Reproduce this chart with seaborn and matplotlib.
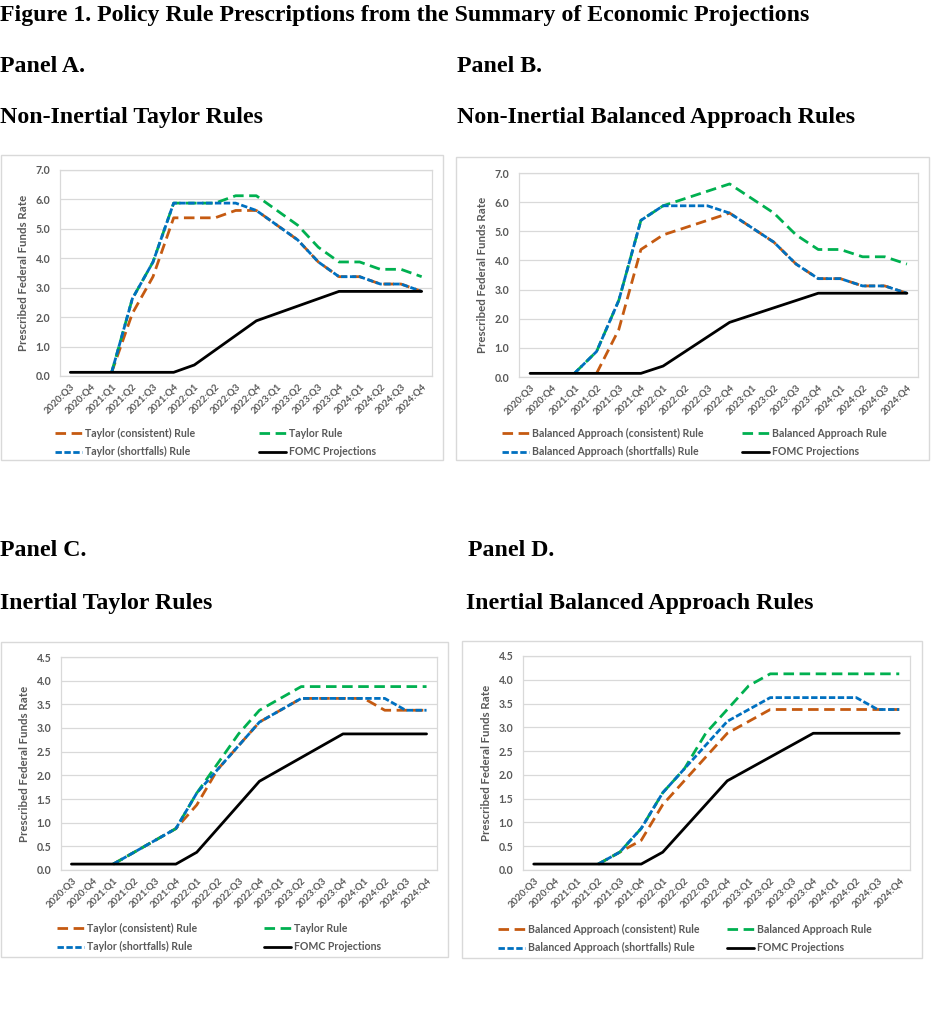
import numpy as np
import pandas as pd
import matplotlib.pyplot as plt
import seaborn as sns
from matplotlib.patches import Rectangle

nan = np.nan

# 季度标签
quarters = ['2020:Q3', '2020:Q4', '2021:Q1', '2021:Q2', '2021:Q3', '2021:Q4',
            '2022:Q1', '2022:Q2', '2022:Q3', '2022:Q4', '2023:Q1', '2023:Q2',
            '2023:Q3', '2023:Q4', '2024:Q1', '2024:Q2', '2024:Q3', '2024:Q4']

fomc = [0.125, 0.125, 0.125, 0.125, 0.125, 0.125, 0.375, 0.875, 1.375, 1.875,
        2.125, 2.375, 2.625, 2.875, 2.875, 2.875, 2.875, 2.875]

# Panel A
a_consistent = [nan, nan, 0.125, 2.125, 3.375, 5.375, 5.375, 5.375, 5.625, 5.625,
                5.125, 4.625, 3.875, 3.375, 3.375, 3.125, 3.125, 2.875]
a_taylor = [nan, nan, 0.125, 2.625, 3.875, 5.875, 5.875, 5.875, 6.125, 6.125,
            5.625, 5.125, 4.375, 3.875, 3.875, 3.625, 3.625, 3.375]
a_shortfalls = [nan, nan, 0.125, 2.625, 3.875, 5.875, 5.875, 5.875, 5.875, 5.625,
                5.125, 4.625, 3.875, 3.375, 3.375, 3.125, 3.125, 2.875]

# Panel B
b_consistent = [nan, nan, nan, 0.125, 1.625, 4.375, 4.875, 5.125, 5.375, 5.625,
                5.125, 4.625, 3.875, 3.375, 3.375, 3.125, 3.125, 2.875]
b_balanced = [nan, nan, 0.125, 0.875, 2.625, 5.375, 5.875, 6.125, 6.375, 6.625,
              6.125, 5.625, 4.875, 4.375, 4.375, 4.125, 4.125, 3.875]
b_shortfalls = [nan, nan, 0.125, 0.875, 2.625, 5.375, 5.875, 5.875, 5.875, 5.625,
                5.125, 4.625, 3.875, 3.375, 3.375, 3.125, 3.125, 2.875]

# Panel C
c_consistent = [nan, nan, 0.125, 0.375, 0.625, 0.875, 1.375, 2.125, 2.625, 3.125,
                3.375, 3.625, 3.625, 3.625, 3.625, 3.375, 3.375, 3.375]
c_taylor = [nan, nan, 0.125, 0.375, 0.625, 0.875, 1.625, 2.25, 2.875, 3.375,
            3.625, 3.875, 3.875, 3.875, 3.875, 3.875, 3.875, 3.875]
c_shortfalls = [nan, nan, 0.125, 0.375, 0.625, 0.875, 1.625, 2.125, 2.625, 3.125,
                3.375, 3.625, 3.625, 3.625, 3.625, 3.625, 3.375, 3.375]

# Panel D
d_consistent = [nan, nan, nan, 0.125, 0.375, 0.625, 1.375, 1.875, 2.375, 2.875,
                3.125, 3.375, 3.375, 3.375, 3.375, 3.375, 3.375, 3.375]
d_balanced = [nan, nan, nan, 0.125, 0.375, 0.875, 1.625, 2.125, 2.875, 3.375,
              3.875, 4.125, 4.125, 4.125, 4.125, 4.125, 4.125, 4.125]
d_shortfalls = [nan, nan, nan, 0.125, 0.375, 0.875, 1.625, 2.125, 2.625, 3.125,
                3.375, 3.625, 3.625, 3.625, 3.625, 3.625, 3.375, 3.375]

sns.set_theme(style='white')
plt.rcParams['font.family'] = ['Lato', 'DejaVu Sans']

W, H = 934, 1024
fig = plt.figure(figsize=(W / 100, H / 100), dpi=100)


def fx(px):
    return px / W


def fy(py):
    return 1 - py / H


ORANGE = '#C55A11'
GREEN = '#00B050'
BLUE = '#0070C0'
GRAY = '#595959'

# 标题文字
head = dict(family='Liberation Serif', weight='bold', fontsize=17.2, va='center', ha='left', color='black')
fig.text(fx(0), fy(16), 'Figure 1. Policy Rule Prescriptions from the Summary of Economic Projections', **head)
fig.text(fx(0), fy(67), 'Panel A.', **head)
fig.text(fx(457), fy(67), 'Panel B.', **head)
fig.text(fx(0), fy(118), 'Non-Inertial Taylor Rules', **head)
fig.text(fx(457), fy(118), 'Non-Inertial Balanced Approach Rules', **head)
fig.text(fx(0), fy(551), 'Panel C.', **head)
fig.text(fx(468), fy(551), 'Panel D.', **head)
fig.text(fx(0), fy(603), 'Inertial Taylor Rules', **head)
fig.text(fx(466), fy(603), 'Inertial Balanced Approach Rules', **head)

panels = [
    dict(box=(1, 155, 443, 460), ax=(60, 170, 432, 376),
         series=(a_consistent, a_taylor, a_shortfalls),
         names=('Taylor (consistent) Rule', 'Taylor Rule', 'Taylor (shortfalls) Rule'),
         ymax=7.0, ystep=1.0, leg=(55, 428), cs=6.0),
    dict(box=(456, 157, 929, 460), ax=(519, 173, 918, 377),
         series=(b_consistent, b_balanced, b_shortfalls),
         names=('Balanced Approach (consistent) Rule', 'Balanced Approach Rule',
                'Balanced Approach (shortfalls) Rule'),
         ymax=7.0, ystep=1.0, leg=(502, 428), cs=3.6),
    dict(box=(1, 642, 448, 957), ax=(61, 657, 437, 870),
         series=(c_consistent, c_taylor, c_shortfalls),
         names=('Taylor (consistent) Rule', 'Taylor Rule', 'Taylor (shortfalls) Rule'),
         ymax=4.5, ystep=0.5, leg=(57, 923), cs=6.3),
    dict(box=(462, 641, 922, 958), ax=(523, 656, 910, 870),
         series=(d_consistent, d_balanced, d_shortfalls),
         names=('Balanced Approach (consistent) Rule', 'Balanced Approach Rule',
                'Balanced Approach (shortfalls) Rule'),
         ymax=4.5, ystep=0.5, leg=(498, 924), cs=2.6),
]

x = np.arange(len(quarters))

for p in panels:
    bx0, by0, bx1, by1 = p['box']
    fig.patches.append(Rectangle((fx(bx0), fy(by1)), fx(bx1 - bx0), (by1 - by0) / H,
                                 transform=fig.transFigure, fill=False,
                                 edgecolor='#D9D9D9', lw=1.0))
    l, t, r, b = p['ax']
    ax = fig.add_axes([fx(l), fy(b), fx(r - l), (b - t) / H])

    cons, rule, short = p['series']
    sns.lineplot(x=x, y=cons, ax=ax, color=ORANGE, lw=2.0, linestyle=(0, (3.8, 2.0)),
                 label=p['names'][0])
    sns.lineplot(x=x, y=rule, ax=ax, color=GREEN, lw=2.0, linestyle=(0, (3.8, 2.0)),
                 label=p['names'][1])
    sns.lineplot(x=x, y=short, ax=ax, color=BLUE, lw=2.0, linestyle=(0, (2.3, 0.9)),
                 label=p['names'][2])
    sns.lineplot(x=x, y=fomc, ax=ax, color='black', lw=2.0, label='FOMC Projections')

    ax.set_xlim(-0.5, len(quarters) - 0.5)
    ax.set_ylim(0, p['ymax'])
    yt = np.arange(0, p['ymax'] + 1e-9, p['ystep'])
    ax.set_yticks(yt)
    ax.set_yticklabels([f'{v:.1f}' for v in yt], fontsize=7.6, color=GRAY, fontweight='bold')
    ax.set_xticks(x)
    ax.set_xticklabels(quarters, rotation=45, ha='right', rotation_mode='anchor',
                       fontsize=6.9, color=GRAY, fontweight='bold')
    ax.tick_params(axis='y', length=0, pad=7)
    ax.tick_params(axis='x', length=0, pad=4)
    ax.grid(axis='y', color='#D9D9D9', lw=0.9)
    ax.set_axisbelow(True)
    for s in ax.spines.values():
        s.set_color('#D9D9D9')
        s.set_linewidth(0.9)
    ax.set_xlabel('')
    ax.set_ylabel('Prescribed Federal Funds Rate', fontsize=8.3, color=GRAY,
                  fontweight='bold', labelpad=5)

    handles, labels = ax.get_legend_handles_labels()
    order = [0, 2, 1, 3]
    lx, ly = p['leg']
    leg = ax.legend([handles[i] for i in order], [labels[i] for i in order], ncol=2,
                    loc='upper left', bbox_to_anchor=(fx(lx), fy(ly)),
                    bbox_transform=fig.transFigure, frameon=False, fontsize=7.6,
                    labelcolor=GRAY, handlelength=2.6, handletextpad=0.25,
                    columnspacing=p['cs'], labelspacing=0.7, borderaxespad=0,
                    borderpad=0)
    for txt in leg.get_texts():
        txt.set_fontweight('bold')

fig.savefig('out.png', dpi=100, facecolor='white')
